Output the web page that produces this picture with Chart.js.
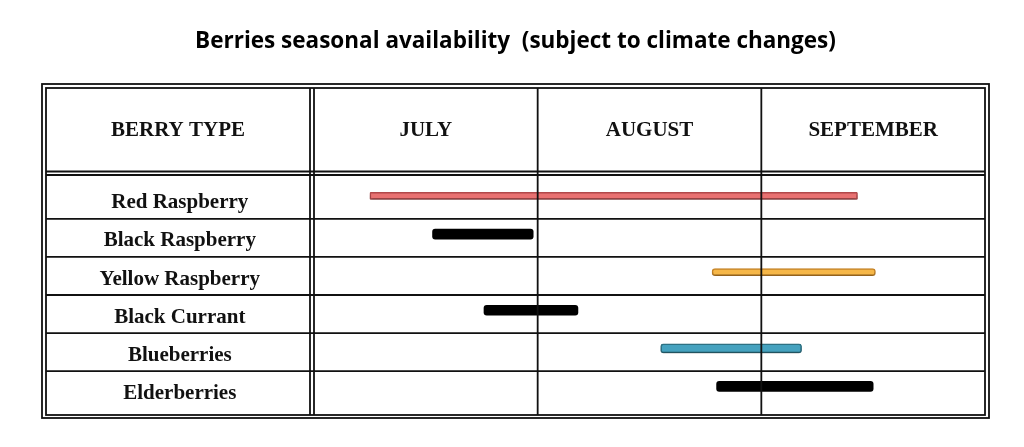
<!DOCTYPE html>
<html>
<head>
<meta charset="utf-8">
<script src="https://cdn.jsdelivr.net/npm/chart.js@4/dist/chart.umd.min.js"></script>
<style>
  html, body { margin: 0; padding: 0; background: #fff; }
  #wrap { width: 1024px; height: 447px; }
</style>
</head>
<body>
<div id="wrap"><canvas id="chart"></canvas></div>
<script>
const berries = ["Red Raspberry", "Black Raspberry", "Yellow Raspberry", "Black Currant", "Blueberries", "Elderberries"];
const months = ["JULY", "AUGUST", "SEPTEMBER"];
// season start / end, in months from 1 July
const seasonStart = [0.25, 0.53, 1.78, 0.76, 1.55, 1.80];
const seasonEnd = [2.43, 0.98, 2.51, 1.18, 2.18, 2.50];
const barColors = ["#e87171", "#000000", "#f6b748", "#000000", "#45a2bf", "#000000"];
const barBorders = ["#b24a4c", "#000000", "#c98628", "#000000", "#2e7385", "#000000"];
const barSizes = [7, 10, 7, 10, 9, 10];

const serif = "'Liberation Serif', 'Times New Roman', serif";

const datasets = berries.map((name, i) => ({
  label: name,
  data: [{ x: [seasonStart[i], seasonEnd[i]], y: i }],
  backgroundColor: barColors[i],
  borderColor: barBorders[i],
  borderWidth: barColors[i] == "#000000" ? 0 : 1.5,
  borderSkipped: false,
  borderRadius: i == 0 ? 1 : 3,
  barThickness: barSizes[i],
  grouped: false,
}));

// soft shadow under the coloured bars
const barShadow = {
  id: "barShadow",
  beforeDatasetDraw(chart, args) {
    const ctx = chart.ctx;
    ctx.save();
    if (barColors[args.index] != "#000000") {
      ctx.shadowColor = "rgba(0,0,0,0.35)";
      ctx.shadowBlur = 3;
      ctx.shadowOffsetY = 2;
    }
  },
  afterDatasetDraw(chart) {
    chart.ctx.restore();
  },
};

const tableLines = {
  id: "tableLines",
  afterDraw(chart) {
    const ctx = chart.ctx;
    const ca = chart.chartArea;
    const xs = chart.scales.x;
    const ys = chart.scales.y;
    const top = xs.top;
    const left = ys.left;
    ctx.save();
    ctx.strokeStyle = "#111";
    ctx.lineWidth = 1.8;
    // outer double border
    ctx.strokeRect(left, top, ca.right - left, ca.bottom - top);
    ctx.strokeRect(left - 4, top - 4, ca.right - left + 8, ca.bottom - top + 7);
    // header double line
    ctx.beginPath();
    ctx.moveTo(left, ca.top - 3.5); ctx.lineTo(ca.right, ca.top - 3.5);
    ctx.moveTo(left, ca.top); ctx.lineTo(ca.right, ca.top);
    // label column double line
    ctx.moveTo(ca.left - 4, top); ctx.lineTo(ca.left - 4, ca.bottom);
    ctx.moveTo(ca.left, top); ctx.lineTo(ca.left, ca.bottom);
    // month separators
    for (let m = 1; m < months.length; m++) {
      const x = xs.getPixelForValue(m);
      ctx.moveTo(x, top); ctx.lineTo(x, ca.bottom);
    }
    // row separators
    for (let i = 0; i < berries.length - 1; i++) {
      const y = ys.getPixelForValue(i + 0.6);
      ctx.moveTo(left, y); ctx.lineTo(ca.right, y);
    }
    ctx.stroke();
    // header of label column
    ctx.fillStyle = "#111";
    ctx.font = "bold 21px " + serif;
    ctx.textAlign = "center";
    ctx.textBaseline = "middle";
    ctx.fillText("BERRY TYPE", (left + ca.left - 4) / 2, ca.top - 44);
    ctx.restore();
  },
};

new Chart(document.getElementById("chart"), {
  type: "bar",
  data: { datasets: datasets },
  options: {
    indexAxis: "y",
    responsive: true,
    maintainAspectRatio: false,
    animation: false,
    layout: { padding: { left: 46, right: 39, top: 0, bottom: 32 } },
    plugins: {
      legend: { display: false },
      tooltip: { enabled: false },
      title: {
        display: true,
        text: "Berries seasonal availability  (subject to climate changes)",
        color: "#000",
        font: { family: "'Open Sans', Lato, sans-serif", size: 22.5, weight: "bold" },
        padding: { top: 28, bottom: 33 },
      },
    },
    scales: {
      x: {
        type: "linear",
        position: "top",
        min: 0,
        max: months.length,
        offset: false,
        afterBuildTicks: (scale) => {
          scale.ticks = months.map((m, i) => ({ value: i + 0.5 }));
        },
        afterFit: (scale) => {
          scale.height = 87;
          scale.paddingLeft = 0;
          scale.paddingRight = 0;
        },
        ticks: {
          callback: (v) => months[Math.floor(v)],
          color: "#111",
          font: { family: serif, size: 21, weight: "bold" },
          crossAlign: "center",
          padding: 44,
          maxRotation: 0,
          autoSkip: false,
        },
        grid: { display: false, drawTicks: false },
        border: { display: false },
      },
      y: {
        type: "linear",
        reverse: true,
        offset: false,
        min: -0.55,
        max: berries.length - 0.25,
        afterBuildTicks: (scale) => {
          scale.ticks = berries.map((b, i) => ({ value: i }));
        },
        afterFit: (scale) => {
          scale.width = 268;
          scale.paddingTop = 0;
          scale.paddingBottom = 0;
        },
        ticks: {
          callback: (v) => berries[v],
          color: "#111",
          font: { family: serif, size: 21, weight: "bold" },
          crossAlign: "center",
          padding: 54,
          labelOffset: 7,
          autoSkip: false,
        },
        grid: { display: false, drawTicks: false },
        border: { display: false },
      },
    },
  },
  plugins: [barShadow, tableLines],
});
</script>
</body>
</html>
